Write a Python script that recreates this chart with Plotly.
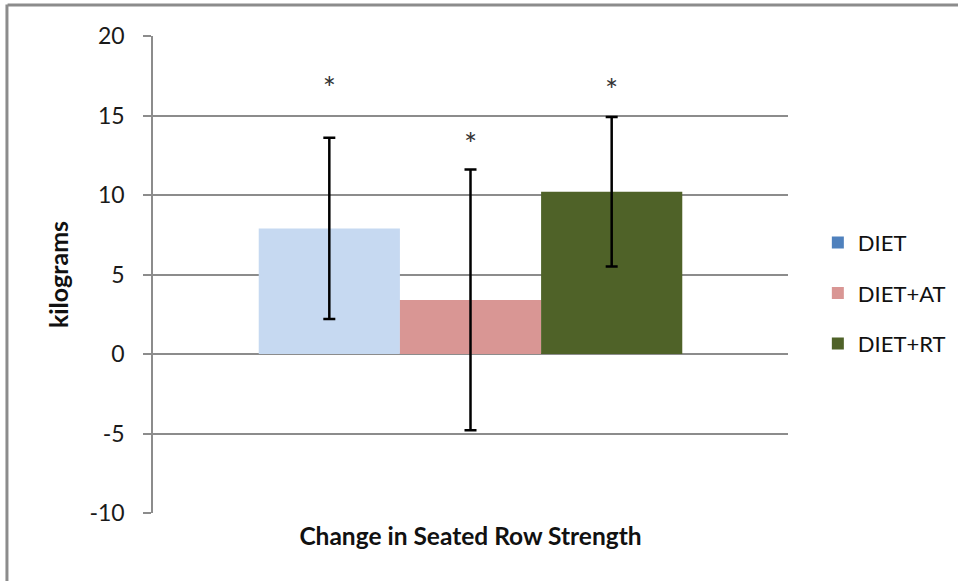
import plotly.graph_objects as go

category = ["Change in Seated Row Strength"]
groups = ["DIET", "DIET+AT", "DIET+RT"]
means = [7.9, 3.4, 10.2]
errors = [5.7, 8.2, 4.7]
star_y = [16.5, 13.0, 16.4]
y_ticks = [-10, -5, 0, 5, 10, 15, 20]
y_tick_labels = ["-10", "-5", "0", "5", "10", "15", "20"]

bar_colors = ["#C6D9F1", "#D99694", "#4F6228"]
legend_colors = ["#4F81BD", "#D99694", "#4F6228"]

FONT = "Lato"
fig = go.Figure()

for i, g in enumerate(groups):
    # legend swatch
    fig.add_trace(go.Bar(
        x=category, y=[None], name=g, offsetgroup=str(i),
        legendgroup=g, marker=dict(color=legend_colors[i], line=dict(width=0)),
        showlegend=True, hoverinfo="skip",
    ))
    fig.add_trace(go.Bar(
        x=category, y=[means[i]], name=g, offsetgroup=str(i),
        legendgroup=g, showlegend=False,
        marker=dict(color=bar_colors[i], line=dict(width=0)),
        error_y=dict(type="data", array=[errors[i]], visible=True,
                     color="black", thickness=2.5, width=6),
    ))
    fig.add_trace(go.Scatter(
        x=category, y=[star_y[i]], mode="text", text=["*"],
        offsetgroup=str(i), showlegend=False, hoverinfo="skip",
        textfont=dict(family=FONT, size=31, color="#333333"),
        textposition="middle center",
    ))

fig.update_layout(
    width=958, height=581,
    margin=dict(l=153, r=170, t=36, b=68, autoexpand=False),
    paper_bgcolor="white", plot_bgcolor="white",
    barmode="group", bargap=0.333, bargroupgap=0,
    scattermode="group", scattergap=0.333,
    font=dict(family=FONT, color="#222222"),
    legend=dict(x=1.047, y=0.461, xanchor="left", yanchor="middle",
                traceorder="grouped", tracegroupgap=19,
                font=dict(family=FONT, size=22, color="#111111"),
                itemwidth=30),
    showlegend=True,
    shapes=[
        dict(type="line", xref="paper", yref="paper", x0=-0.229, x1=1.3,
             y0=1.065, y1=1.065, line=dict(color="#8C8C8C", width=3)),
        dict(type="line", xref="paper", yref="paper", x0=-0.230, x1=-0.230,
             y0=1.066, y1=-0.2, line=dict(color="#8C8C8C", width=3)),
    ],
)

fig.update_xaxes(
    type="category",
    tickfont=dict(family=FONT, size=24.5, color="#111111"),
    tickprefix="<b>", ticksuffix="</b>",
    showline=False, showgrid=False, ticks="",
    ticklabelstandoff=6,
)
fig.update_yaxes(
    range=[-10, 20], tickvals=y_ticks, ticktext=y_tick_labels,
    showgrid=True, gridcolor="#8C8C8C", gridwidth=1.5,
    zeroline=True, zerolinecolor="#8C8C8C", zerolinewidth=1.5,
    showline=True, linecolor="#8C8C8C", linewidth=1.5,
    ticks="outside", ticklen=8, tickcolor="#8C8C8C", tickwidth=1.5,
    tickfont=dict(family=FONT, size=23, color="#1a1a1a"),
    ticklabelstandoff=14,
    title=dict(text="<b>kilograms</b>", font=dict(family=FONT, size=25, color="#111111"),
               standoff=14),
)

fig.write_html("out.html")
